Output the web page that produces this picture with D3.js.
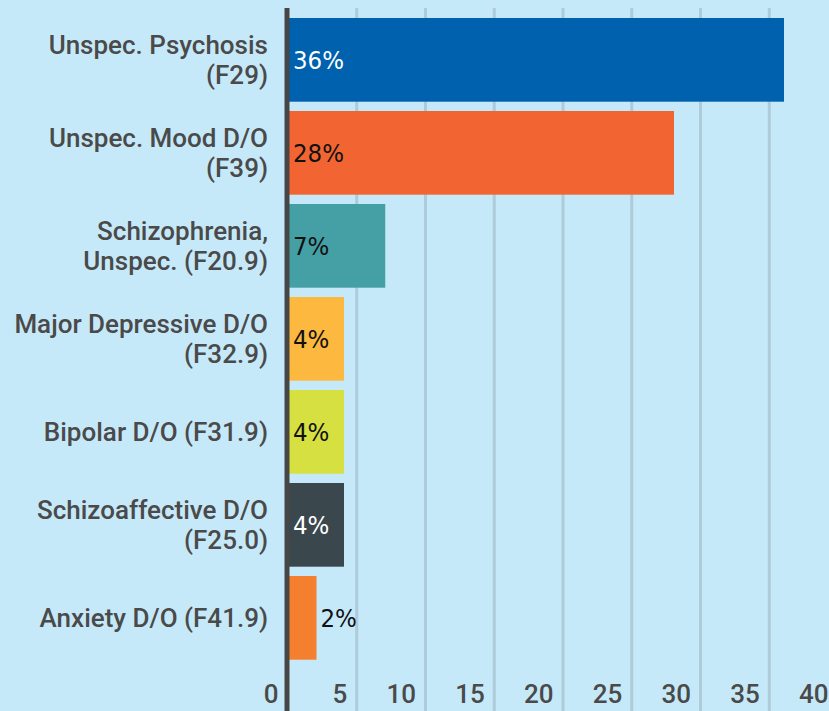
<!DOCTYPE html>
<html>
<head>
<meta charset="utf-8">
<script src="https://cdn.jsdelivr.net/npm/d3@7"></script>
<style>
  html, body { margin: 0; padding: 0; background: #c6e9f9; }
  svg { display: block; }
</style>
</head>
<body>
<div id="chart"></div>
<script>
// 数据
var categories = [
  ["Unspec. Psychosis", "(F29)"],
  ["Unspec. Mood D/O", "(F39)"],
  ["Schizophrenia,", "Unspec. (F20.9)"],
  ["Major Depressive D/O", "(F32.9)"],
  ["Bipolar D/O (F31.9)"],
  ["Schizoaffective D/O", "(F25.0)"],
  ["Anxiety D/O (F41.9)"]
];
var values = [36, 28, 7, 4, 4, 4, 2];
var tickValues = [0, 5, 10, 15, 20, 25, 30, 35, 40];

// 颜色
var barColors = ["#0061ae", "#f26532", "#45a0a6", "#fdb93f", "#d6e041", "#3a474d", "#f47f2f"];
var labelColors = ["#ffffff", "#111111", "#111111", "#111111", "#111111", "#ffffff", "#111111"];

var W = 829, H = 711;
var svg = d3.select("#chart").append("svg")
  .attr("width", W)
  .attr("height", H);

svg.append("rect").attr("width", W).attr("height", H).attr("fill", "#c6e9f9");

var x = d3.scaleLinear().domain([0, 40]).range([289, 839]);
var y = d3.scaleBand()
  .domain(d3.range(values.length))
  .range([13.35, 664.35])
  .paddingInner(0.1)
  .paddingOuter(0.05);

// 网格线
svg.append("g")
  .selectAll("line")
  .data(tickValues.filter(d => d > 0))
  .join("line")
  .attr("x1", d => x(d) - 1)
  .attr("x2", d => x(d) - 1)
  .attr("y1", 8)
  .attr("y2", H)
  .attr("stroke", "#adcbd9")
  .attr("stroke-width", 3);

// 柱子
svg.append("g")
  .selectAll("rect")
  .data(values)
  .join("rect")
  .attr("x", x(0))
  .attr("y", (d, i) => y(i))
  .attr("width", d => x(d) - x(0))
  .attr("height", y.bandwidth())
  .attr("fill", (d, i) => barColors[i]);

// 纵轴线
svg.append("line")
  .attr("x1", 287).attr("x2", 287)
  .attr("y1", 8).attr("y2", H)
  .attr("stroke", "#464646")
  .attr("stroke-width", 5);

// 数值标签
svg.append("g")
  .selectAll("text")
  .data(values)
  .join("text")
  .attr("x", d => (x(d) - x(0) < 40 ? x(d) + 4 : x(0) + 4))
  .attr("y", (d, i) => y(i) + y.bandwidth() / 2 + 9.5)
  .attr("font-family", "'DejaVu Sans Condensed', 'DejaVu Sans'")
  .attr("font-stretch", "condensed")
  .attr("font-size", 25.5)
  .attr("fill", (d, i) => labelColors[i])
  .text(d => d + "%");

// 类别标签
var catG = svg.append("g")
  .selectAll("text")
  .data(categories)
  .join("text")
  .attr("text-anchor", "end")
  .attr("font-family", "Roboto")
  .attr("font-weight", 500)
  .attr("font-size", 26)
  .attr("fill", "#4a4a4a")
  .attr("transform", (d, i) => `translate(268, ${y(i) + y.bandwidth() / 2})`);

catG.selectAll("tspan")
  .data(d => d.map((t, k) => ({ t: t, k: k, n: d.length })))
  .join("tspan")
  .attr("x", 0)
  .attr("y", d => (d.n === 1 ? 9 : (d.k === 0 ? -5.5 : 24.5)))
  .text(d => d.t);

// 横轴刻度
var xAxis = d3.axisBottom(x)
  .tickValues(tickValues)
  .tickSize(0)
  .tickPadding(0);

var axG = svg.append("g")
  .call(xAxis);
axG.select(".domain").remove();
axG.selectAll("text")
  .attr("text-anchor", "end")
  .attr("dx", -11)
  .attr("y", 703)
  .attr("dy", 0)
  .attr("font-family", "Roboto")
  .attr("font-weight", 500)
  .attr("font-size", 26)
  .attr("fill", "#4a4a4a");
</script>
</body>
</html>
